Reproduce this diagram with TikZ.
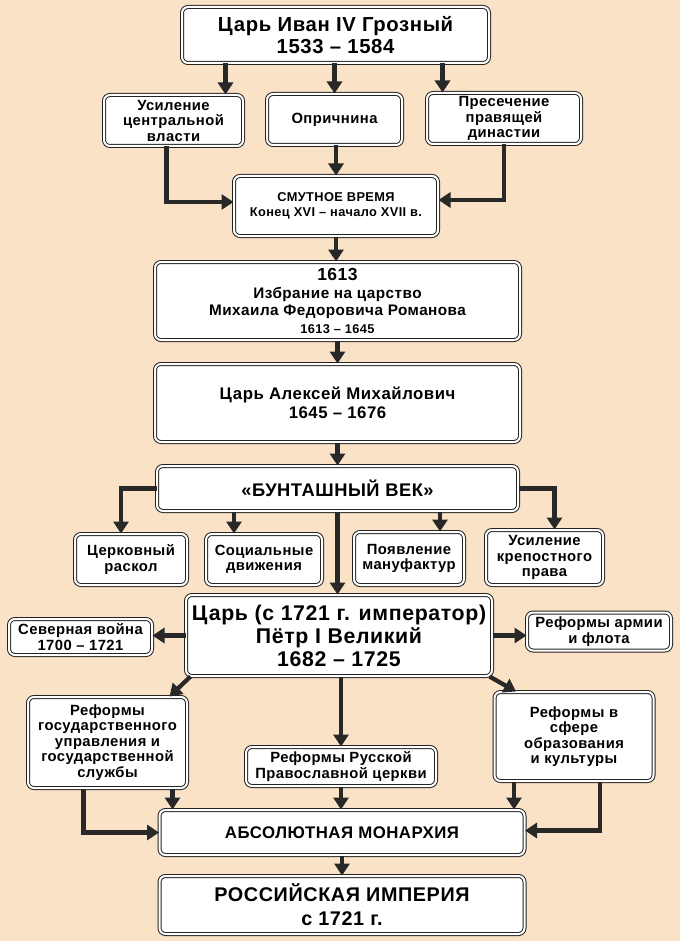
\documentclass[tikz,border=0pt]{standalone}
\usepackage{fontspec}
\setmainfont{Liberation Sans}[LetterSpace=3]
\usepackage{xcolor}
\usepackage{tikz}
\usetikzlibrary{arrows.meta,positioning,calc}
\definecolor{rusbg}{RGB}{250,226,198}
\definecolor{rusline}{RGB}{35,35,35}
\definecolor{rusarrow}{RGB}{40,40,40}

\begin{document}
\begin{tikzpicture}[
    x=1pt, y=-1pt,
    box/.style={draw=rusline, double=white, double distance=2pt, line width=1pt,
                fill=white, rounded corners=6pt, align=center, inner sep=1pt},
    size/.style 2 args={minimum width=#1pt, minimum height=#2pt},
    txtS/.style={font=\fontsize{14.8}{15.5}\selectfont\bfseries},
    txtM/.style={font=\fontsize{16.8}{18.5}\selectfont\bfseries},
    txtL/.style={font=\fontsize{20.3}{22}\selectfont\bfseries},
    arrow/.style={-{Triangle[length=12pt,width=15pt]}, line width=4.3pt, rusarrow}
]
\path[use as bounding box, fill=rusbg] (0,0) rectangle (680,941);

% Ivan IV and its results
\node[box, txtL, size={307}{56}] (ivan) at (335.5,35) {Царь Иван IV Грозный\\1533 – 1584};
\node[box, txtS, size={139}{51}] (usil) at (173.5,120.5) {Усиление\\центральной\\власти};
\node[box, txtS, size={135}{51}] (oprich) at (334.5,119.5) {Опричнина};
\node[box, txtS, size={154}{51}] (preseh) at (504,118.5) {Пресечение\\правящей\\династии};
\node[box, size={204}{60}, font=\fontsize{12.8}{15}\selectfont\bfseries] (smuta) at (336,206)
    {СМУТНОЕ ВРЕМЯ\\Конец XVI – начало XVII в.};

% first Romanovs
\node[box, size={365}{78}, font=\fontsize{15.3}{17.5}\selectfont\bfseries] (romanov) at (337.5,301)
    {{\fontsize{17.5}{17}\selectfont 1613}\\Избрание на царство\\Михаила Федоровича Романова\\
     {\fontsize{12.8}{13}\selectfont 1613 – 1645}};
\node[box, txtM, size={365}{78}] (alexei) at (337.5,403) {Царь Алексей Михайлович\\1645 – 1676};
\node[box, size={361}{45}, font=\fontsize{18.3}{20}\selectfont\bfseries] (bunt) at (337.5,488.5)
    {«БУНТАШНЫЙ ВЕК»};
\node[box, txtS, size={112}{51}] (raskol) at (131,559.5) {Церковный\\раскол};
\node[box, txtS, size={116}{51}] (social) at (264,559.5) {Социальные\\движения};
\node[box, txtS, size={110}{53}] (manuf) at (409,558.5) {Появление\\мануфактур};
\node[box, txtS, size={117}{55}] (krepost) at (544.5,557.5) {Усиление\\крепостного\\права};

% Peter I and his reforms
\node[box, size={306}{81}, font=\fontsize{21.3}{23}\selectfont\bfseries] (petr) at (339,635.5)
    {Царь (с 1721 г. император)\\Пётр I Великий\\1682 – 1725};
\node[box, txtS, size={143}{36}] (sever) at (80.5,637) {Северная война\\1700 – 1721};
\node[box, txtS, size={144}{38}] (army) at (599,631.5) {Реформы армии\\и флота};
\node[box, txtS, size={159}{91}] (gosupr) at (107.5,742.5)
    {Реформы\\государственного\\управления и\\государственной\\службы};
\node[box, txtS, size={190}{39}] (church) at (341,766.5) {Реформы Русской\\Православной церкви};
\node[box, txtS, size={159}{89}] (educ) at (574,736.5) {Реформы в\\сфере\\образования\\и культуры};
\node[box, size={365}{45}, font=\fontsize{16.8}{18}\selectfont\bfseries] (absol) at (342,832.5)
    {АБСОЛЮТНАЯ МОНАРХИЯ};
\node[box, size={365}{58}, font=\fontsize{19.8}{24}\selectfont\bfseries] (empire) at (342,905)
    {РОССИЙСКАЯ ИМПЕРИЯ\\с 1721 г.};

% connectors
\draw[arrow] ([xshift=-110pt]ivan.south) -- ([xshift=-110pt]ivan.south |- usil.north);
\draw[arrow] (oprich.north |- ivan.south) -- (oprich.north);
\draw[arrow] ([xshift=107pt]ivan.south) -- ([xshift=107pt]ivan.south |- preseh.north);
\draw[arrow] (smuta.north |- oprich.south) -- (smuta.north);
\draw[arrow] ([xshift=-7pt]usil.south) |- ([yshift=4pt]smuta.west);
\draw[arrow] (preseh.south) |- ([yshift=6pt]smuta.east);
\draw[arrow] (smuta.south) -- (smuta.south |- romanov.north);
\draw[arrow] (romanov.south) -- (alexei.north);
\draw[arrow] (alexei.south) -- (bunt.north);
\draw[arrow] (bunt.west) -| ([xshift=-10pt]raskol.north);
\draw[arrow] ([xshift=-30pt]social.north |- bunt.south) -- ([xshift=-30pt]social.north);
\draw[arrow] ([xshift=31pt]manuf.north |- bunt.south) -- ([xshift=31pt]manuf.north);
\draw[arrow] (bunt.east) -| ([xshift=10pt]krepost.north);
\draw[arrow] (bunt.south) -- (bunt.south |- petr.north);
\draw[arrow] (petr.west) -- (petr.west -| sever.east);
\draw[arrow] (petr.east) -- (petr.east -| army.west);
\draw[arrow] ([xshift=5pt]petr.south west) -- ([xshift=62pt]gosupr.north);
\draw[arrow] ([xshift=-3pt]petr.south east) -- ([xshift=-58pt]educ.north);
\draw[arrow] (church.north |- petr.south) -- (church.north);
\draw[arrow] ([xshift=65pt]gosupr.south) -- ([xshift=65pt]gosupr.south |- absol.north);
\draw[arrow] ([xshift=-24pt]gosupr.south) |- (absol.west);
\draw[arrow] (church.south) -- (church.south |- absol.north);
\draw[arrow] ([xshift=-60pt]educ.south) -- ([xshift=-60pt]educ.south |- absol.north);
\draw[arrow] ([xshift=26pt]educ.south) |- ([yshift=2pt]absol.east);
\draw[arrow] (absol.south) -- (absol.south |- empire.north);
\end{tikzpicture}
\end{document}
